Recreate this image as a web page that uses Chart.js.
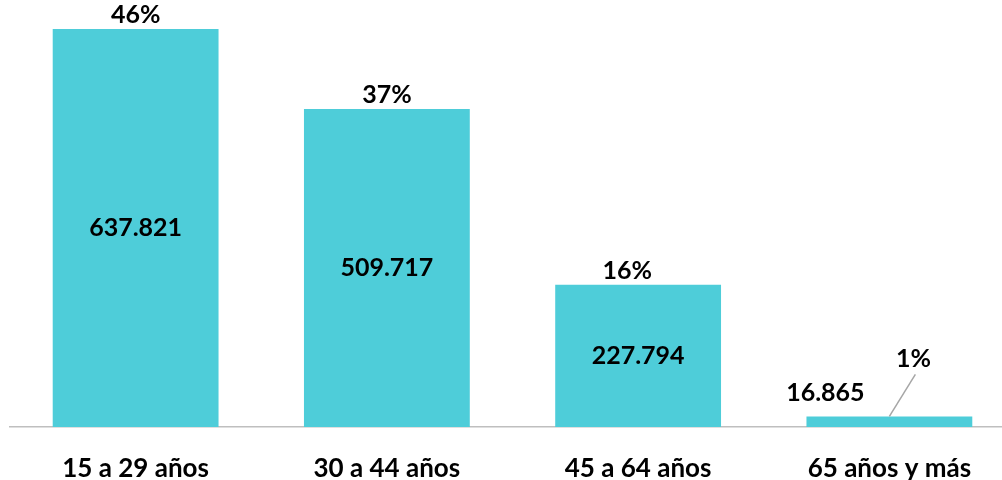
<!DOCTYPE html>
<html>
<head>
<meta charset="utf-8">
<script src="https://cdn.jsdelivr.net/npm/chart.js@4"></script>
<style>
  body { margin: 0; overflow: hidden; background: #fff; }
  #wrap { width: 1015px; height: 480px; }
</style>
</head>
<body>
<div id="wrap"><canvas id="myChart"></canvas></div>
<script>
const labels = ["15 a 29 años", "30 a 44 años", "45 a 64 años", "65 años y más"];
const values = [637821, 509717, 227794, 16865];
const valueLabels = ["637.821", "509.717", "227.794", "16.865"];
const pctLabels = ["46%", "37%", "16%", "1%"];

const FONT = "Lato, 'Liberation Sans', sans-serif";

// draws the value and percent labels on each bar
const barLabels = {
  id: "barLabels",
  afterDatasetsDraw(chart) {
    const ctx = chart.ctx;
    const meta = chart.getDatasetMeta(0);
    ctx.save();
    ctx.fillStyle = "#000";
    ctx.font = "bold 25px " + FONT;
    ctx.textAlign = "center";
    ctx.textBaseline = "middle";
    meta.data.forEach((bar, i) => {
      const h = bar.base - bar.y;
      if (h > 60) {
        ctx.fillText(valueLabels[i], bar.x, (bar.y + bar.base) / 2);
        const dx = i === 2 ? -11 : 0;
        ctx.fillText(pctLabels[i], bar.x + dx, bar.y - 14);
      } else {
        // small bar: value to the upper left, percent with a leader line
        ctx.fillText(valueLabels[i], bar.x - 64, bar.y - 24);
        ctx.fillText(pctLabels[i], bar.x + 24, bar.y - 58);
        ctx.strokeStyle = "#a6a6a6";
        ctx.lineWidth = 1.5;
        ctx.beginPath();
        ctx.moveTo(bar.x + 26, bar.y - 42);
        ctx.lineTo(bar.x, bar.y);
        ctx.stroke();
      }
    });
    ctx.restore();
  }
};

new Chart("myChart", {
  type: "bar",
  data: {
    labels: labels,
    datasets: [
      {
        data: values,
        backgroundColor: "#4ecdd9",
        categoryPercentage: 0.66,
        barPercentage: 1,
      },
    ],
  },
  options: {
    responsive: true,
    maintainAspectRatio: false,
    animation: false,
    layout: { padding: { left: 10, right: 0, top: 0, bottom: 0 } },
    plugins: {
      legend: { display: false },
      tooltip: { enabled: false },
    },
    scales: {
      x: {
        grid: { display: false },
        border: { display: true, color: "#bfbfbf", width: 1.5 },
        ticks: {
          color: "#000",
          padding: 18,
          font: { family: FONT, size: 26, weight: "bold" },
        },
        afterFit(scale) {
          scale.height = 53;
        },
      },
      y: {
        display: false,
        min: 0,
        max: 684300,
      },
    },
  },
  plugins: [barLabels],
});
</script>
</body>
</html>
